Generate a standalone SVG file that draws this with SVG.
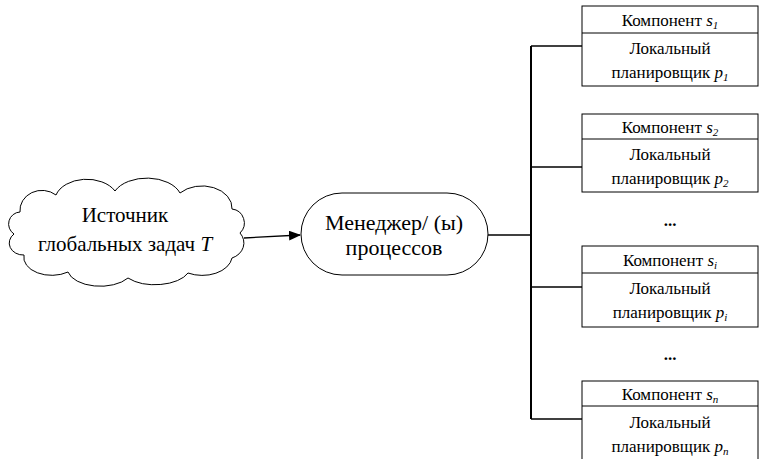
<svg xmlns="http://www.w3.org/2000/svg" width="761" height="459" viewBox="0 0 761 459">
<defs>
<marker id="ah" markerWidth="12" markerHeight="10" refX="11" refY="5" orient="auto" markerUnits="userSpaceOnUse">
<path d="M0,0 L12,5 L0,10 Z" fill="#000"/>
</marker>
</defs>
<rect width="761" height="459" fill="#fff"/>
<g id="connectors" fill="none" stroke="#000" stroke-width="1.3">
<line x1="244" y1="238" x2="300" y2="235" marker-end="url(#ah)"/>
<line x1="488" y1="235" x2="531" y2="235"/>
<line x1="531" y1="46" x2="531" y2="419" stroke-width="2"/>
<line x1="531" y1="46" x2="582" y2="46"/>
<line x1="531" y1="167" x2="582" y2="167"/>
<line x1="531" y1="287" x2="582" y2="287"/>
<line x1="531" y1="419" x2="582" y2="419"/>
</g>
<g font-family="Liberation Serif" text-anchor="middle" fill="#000">
<g id="source">
<path fill="#fff" stroke="#000" d="M20,212 A22,20 0 0 1 56,195 A32,22 0 0 1 115,191 A35,22 0 0 1 180,193 A30,22 0 0 1 232,209 A14,14 0 0 1 240,233 A18,16 0 0 1 232,258 A30,20 0 0 1 188,273 A35,18 0 0 1 128,278 A33,18 0 0 1 68,272 A28,18 0 0 1 24,255 A14,12 0 0 1 14,234 A12,12 0 0 1 20,212 Z"/>
<text x="125" y="222" font-size="21">Источник</text>
<text x="125" y="251" font-size="21">глобальных задач <tspan font-style="italic">T</tspan></text>
</g>
<g id="manager">
<rect fill="#fff" stroke="#000" x="301" y="193" width="187" height="82" rx="41" ry="41"/>
<text x="394" y="230" font-size="22">Менеджер/ (ы)</text>
<text x="394" y="255" font-size="22">процессов</text>
</g>
<g id="comp1">
<rect fill="#fff" stroke="#000" x="582" y="6" width="176" height="80"/>
<line stroke="#000" x1="582" y1="33" x2="758" y2="33"/>
<text x="670" y="26" font-size="17">Компонент <tspan font-style="italic">s</tspan><tspan font-style="italic" font-size="11" dy="3">1</tspan></text>
<text x="670" y="54" font-size="17">Локальный</text>
<text x="670" y="78" font-size="17">планировщик <tspan font-style="italic">p</tspan><tspan font-style="italic" font-size="11" dy="3">1</tspan></text>
</g>
<g id="comp2">
<rect fill="#fff" stroke="#000" x="582" y="114" width="176" height="78"/>
<line stroke="#000" x1="582" y1="139" x2="758" y2="139"/>
<text x="670" y="133" font-size="17">Компонент <tspan font-style="italic">s</tspan><tspan font-style="italic" font-size="11" dy="3">2</tspan></text>
<text x="670" y="160" font-size="17">Локальный</text>
<text x="670" y="184" font-size="17">планировщик <tspan font-style="italic">p</tspan><tspan font-style="italic" font-size="11" dy="3">2</tspan></text>
</g>
<g id="dots1"><text x="670" y="226" font-size="17" font-weight="bold">...</text></g>
<g id="comp3">
<rect fill="#fff" stroke="#000" x="582" y="246" width="176" height="81"/>
<line stroke="#000" x1="582" y1="273" x2="758" y2="273"/>
<text x="670" y="266" font-size="17">Компонент <tspan font-style="italic">s</tspan><tspan font-style="italic" font-size="11" dy="3">i</tspan></text>
<text x="670" y="294" font-size="17">Локальный</text>
<text x="670" y="318" font-size="17">планировщик <tspan font-style="italic">p</tspan><tspan font-style="italic" font-size="11" dy="3">i</tspan></text>
</g>
<g id="dots2"><text x="670" y="360" font-size="17" font-weight="bold">...</text></g>
<g id="comp4">
<rect fill="#fff" stroke="#000" x="582" y="381" width="176" height="90"/>
<line stroke="#000" x1="582" y1="406" x2="758" y2="406"/>
<text x="670" y="400" font-size="17">Компонент <tspan font-style="italic">s</tspan><tspan font-style="italic" font-size="11" dy="3">n</tspan></text>
<text x="670" y="428" font-size="17">Локальный</text>
<text x="670" y="452" font-size="17">планировщик <tspan font-style="italic">p</tspan><tspan font-style="italic" font-size="11" dy="3">n</tspan></text>
</g>
</g>
</svg>
